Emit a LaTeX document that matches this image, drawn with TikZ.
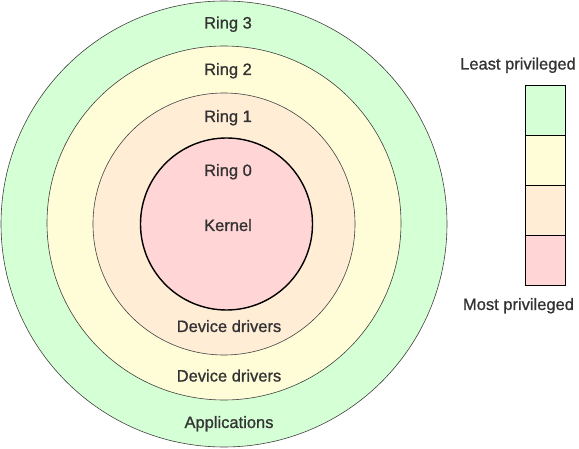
\documentclass[tikz,border=0pt]{standalone}
\usepackage{fontspec}
\setmainfont{Liberation Sans}[FakeBold=0.9]
\usepackage{tikz}
\usetikzlibrary{positioning}
\definecolor{ringgreen}{HTML}{D5FFD5}
\definecolor{ringyellow}{HTML}{FFFDD8}
\definecolor{ringpeach}{HTML}{FFEDD6}
\definecolor{ringpink}{HTML}{FFD5D6}
\definecolor{textgray}{HTML}{333333}

\begin{document}
\begin{tikzpicture}[x=1pt, y=-1pt, node distance=50pt, font=\fontsize{16.5}{20}\selectfont]
	\tikzstyle{ring} = [circle, draw=black!75, line width=0.6pt, inner sep=0pt, outer sep=0pt]
	\tikzstyle{kernelring} = [circle, draw=black, line width=1.4pt, fill=ringpink, inner sep=0pt]
	\tikzstyle{ringtext} = [anchor=base, text=textgray, inner sep=0pt]
	\tikzstyle{cell} = [rectangle, minimum width=40pt, minimum height=50pt, draw=black, line width=0.8pt]
	\useasboundingbox (0,0) rectangle (579,449);
	% rings, outside in
	\node (ring3) [ring, fill=ringgreen, minimum size=446pt] at (224,224) {};
	\node (ring2) [ring, fill=ringyellow, minimum size=354pt] at (224,223) {};
	\node (ring1) [ring, fill=ringpeach, minimum size=262pt] at (224,224) {};
	\node (ring0) [kernelring, minimum size=172pt] at (226.5,224) {};
	\node (ring3Name) [ringtext] at (228,28.5) {Ring 3};
	\node (ring2Name) [ringtext] at (228,75) {Ring 2};
	\node (ring1Name) [ringtext] at (228,122) {Ring 1};
	\node (ring0Name) [ringtext] at (228,176) {Ring 0};
	\node (kernel) [ringtext] at (228,231) {Kernel};
	\node (drivers1) [ringtext] at (229,332) {Device drivers};
	\node (drivers2) [ringtext] at (229,381.5) {Device drivers};
	\node (apps) [ringtext] at (229,428) {Applications};
	% privilege scale
	\node (cellGreen) [cell, fill=ringgreen] at (545,110) {};
	\node (cellYellow) [cell, fill=ringyellow, below of=cellGreen] {};
	\node (cellPeach) [cell, fill=ringpeach, below of=cellYellow] {};
	\node (cellPink) [cell, fill=ringpink, below of=cellPeach] {};
	\node (least) [ringtext] at (518,69.5) {Least privileged};
	\node (most) [ringtext] at (518.5,310) {Most privileged};
\end{tikzpicture}
\end{document}
